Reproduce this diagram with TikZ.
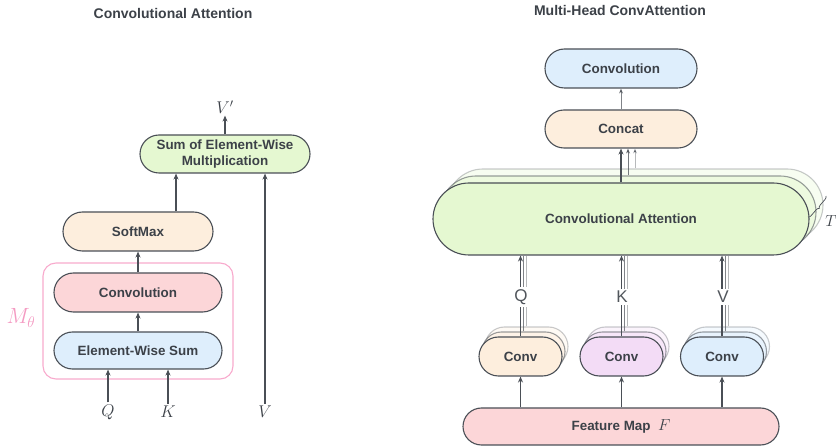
\RequirePackage{fix-cm}
\documentclass[tikz,border=0pt]{standalone}
\usepackage{fontspec}
\setsansfont{Liberation Sans}
\usetikzlibrary{shapes.misc,arrows.meta,decorations.pathreplacing,calc}
\definecolor{edge}{HTML}{4A4F56}
\definecolor{ink}{HTML}{3C4148}
\definecolor{fgreen}{HTML}{E5F8D1}
\definecolor{forange}{HTML}{FDEEDD}
\definecolor{fred}{HTML}{FCD6D8}
\definecolor{fblue}{HTML}{DEEEFC}
\definecolor{fpurple}{HTML}{F3DCF6}
\definecolor{mpink}{HTML}{F8AACD}
\definecolor{mtext}{HTML}{F49AC2}
\definecolor{lblgray}{HTML}{51565C}
\begin{document}
\begin{tikzpicture}[x=1pt,y=-1pt,
  pill/.style={rounded rectangle, draw=edge, line width=1.1pt, inner sep=0pt,
    text=ink, font=\sffamily\bfseries\fontsize{13.4}{15.5}\selectfont, align=center},
  ghost/.style={pill, draw opacity=#1, fill opacity=#1, text opacity=0},
  arr/.style={draw=edge, line width=1.1pt, -{Stealth[length=6pt,width=5pt]}},
  thin/.style={draw=edge, line width=0.8pt},
  mathlbl/.style={text=ink, font=\fontsize{17}{20}\selectfont, inner sep=2pt},
  title/.style={text=ink, font=\sffamily\bfseries\fontsize{14}{16}\selectfont},
  qkv/.style={text=lblgray, font=\sffamily\fontsize{17}{20}\selectfont, fill=white, inner sep=2pt}
]
\useasboundingbox (0,0) rectangle (836,446);

% ---------- left: convolutional attention ----------
\node[title] (tl) at (173,13) {Convolutional Attention};

\node[draw=mpink, line width=1.1pt, rounded corners=13pt,
      minimum width=190pt, minimum height=116pt] (mt) at (138,321) {};
\node[text=mtext, font=\fontsize{22}{24}\selectfont] (mtl) at (21,318) {$M_\theta$};

\node[pill, fill=fgreen, minimum width=170pt, minimum height=38pt] (sum) at (225,154)
  {Sum of Element-Wise\\Multiplication};
\node[pill, fill=forange, minimum width=150pt, minimum height=39pt] (sm) at (138,231.5) {SoftMax};
\node[pill, fill=fred, minimum width=168pt, minimum height=39pt] (cv) at (138,292.5) {Convolution};
\node[pill, fill=fblue, minimum width=168pt, minimum height=37pt] (es) at (138,350.5) {Element-Wise Sum};

\node[mathlbl] (vp) at (225,107) {$V'$};
\node[mathlbl] (q) at (108,412) {$Q$};
\node[mathlbl] (k) at (168,412) {$K$};
\node[mathlbl] (v) at (265,412) {$V$};

\draw[arr] (sum.north) -- (vp.south);
\draw[arr] ([xshift=38pt]sm.north) -- ([xshift=38pt]sm.north |- sum.south);
\draw[arr] (cv.north) -- (sm.south);
\draw[arr] (es.north) -- (cv.south);
\draw[arr] (q.north) -- (q.north |- es.south);
\draw[arr] (k.north) -- (k.north |- es.south);
\draw[arr] (v.north) -- (v.north |- sum.south);

% ---------- right: multi-head convattention ----------
\node[title] (tr) at (620,11) {Multi-Head ConvAttention};

\node[pill, fill=fblue, minimum width=152pt, minimum height=39pt] (out) at (621,68.5) {Convolution};
\node[pill, fill=forange, minimum width=152pt, minimum height=38pt] (cat) at (621,129) {Concat};

% stacked attention heads
\node[ghost=0.3, fill=fgreen, minimum width=376pt, minimum height=72pt] (att2) at (635,205) {};
\node[ghost=0.55, fill=fgreen, minimum width=376pt, minimum height=72pt] (att1) at (628,212) {};
\node[pill, fill=fgreen, minimum width=376pt, minimum height=72pt] (att) at (621,219) {Convolutional Attention};

\draw[thin, draw opacity=0.75, -{Stealth[length=5pt,width=4pt]}] (att1.north) -- (att1.north |- cat.south);
\draw[thin, draw opacity=0.4, -{Stealth[length=5pt,width=4pt]}] (att2.north) -- (att2.north |- cat.south);
\draw[arr] (att.north) -- (cat.south);
\draw[thin, draw opacity=0.7, -{Stealth[length=5pt,width=4pt]}] (cat.north) -- (out.south);

\draw[decorate, decoration={brace, mirror, amplitude=3pt}, draw=edge, line width=0.7pt]
  (808,217) -- (826,196);
\node[mathlbl, font=\fontsize{16}{18}\selectfont] (tlab) at (831,221) {$T$};

% convolution stacks for Q, K, V
\foreach \n/\cx/\col in {cq/520.5/forange, ck/621.5/fpurple, cv/722/fblue} {
  \node[ghost=0.3, fill=\col, minimum width=83pt, minimum height=39pt] (\n2) at (\cx+6,346.5) {};
  \node[ghost=0.55, fill=\col, minimum width=83pt, minimum height=39pt] (\n1) at (\cx+3,351.5) {};
  \node[pill, fill=\col, minimum width=83pt, minimum height=39pt] (\n) at (\cx,356.5) {Conv};
}

\node[pill, fill=fred, minimum width=316pt, minimum height=37pt] (fm) at (621,426.5)
  {Feature Map \ {\fontsize{16}{18}\selectfont$F$}};

\foreach \n in {cq, ck, cv} {
  \draw[thin, draw opacity=0.4] (\n2.north) -- (\n2.north |- att.south);
  \draw[thin, draw opacity=0.7] (\n1.north) -- (\n1.north |- att.south);
  \draw[arr] (\n.north) -- (\n.north |- att.south);
  \draw[arr] (\n.south |- fm.north) -- (\n.south);
}

\node[qkv] (lq) at (521,297) {Q};
\node[qkv] (lk) at (622,297) {K};
\node[qkv] (lv) at (723,297) {V};
\end{tikzpicture}
\end{document}
